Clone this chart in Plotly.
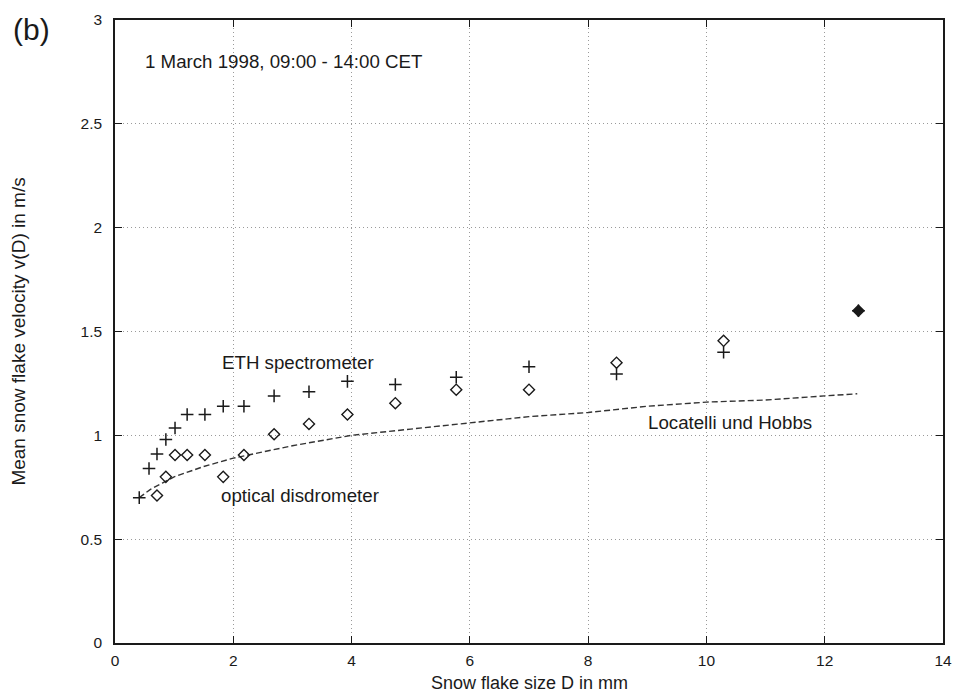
import plotly.graph_objects as go

# ETH spectrometer (+)
eth_d = [0.41, 0.575, 0.71, 0.86, 1.015, 1.22, 1.52, 1.83, 2.18, 2.69, 3.28, 3.93, 4.74, 5.77, 7.00, 8.48, 10.29, 12.57]
eth_v = [0.70, 0.84, 0.91, 0.98, 1.035, 1.10, 1.10, 1.14, 1.14, 1.19, 1.21, 1.26, 1.245, 1.28, 1.33, 1.295, 1.40, 1.60]

# optical disdrometer (diamonds)
opt_d = [0.71, 0.86, 1.015, 1.22, 1.52, 1.83, 2.18, 2.69, 3.28, 3.93, 4.74, 5.77, 7.00, 8.48, 10.29, 12.57]
opt_v = [0.71, 0.80, 0.905, 0.905, 0.905, 0.80, 0.905, 1.005, 1.055, 1.10, 1.155, 1.22, 1.22, 1.35, 1.455, 1.60]

# Locatelli und Hobbs (dashed curve)
lh_d = [0.41, 0.6, 0.8, 1.0, 1.5, 2.0, 3.0, 4.0, 5.0, 6.0, 7.0, 8.0, 9.0, 10.0, 11.0, 12.0, 12.55]
lh_v = [0.70, 0.74, 0.77, 0.80, 0.85, 0.89, 0.95, 1.00, 1.03, 1.06, 1.09, 1.11, 1.14, 1.16, 1.17, 1.19, 1.20]

x_ticks = [0, 2, 4, 6, 8, 10, 12, 14]
y_ticks = [0, 0.5, 1, 1.5, 2, 2.5, 3]
y_tick_labels = ["0", "0.5", "1", "1.5", "2", "2.5", "3"]

FONT = "Liberation Sans, Arial, Helvetica, sans-serif"
INK = "#1a1a1a"

fig = go.Figure()
fig.add_trace(go.Scatter(x=lh_d, y=lh_v, mode="lines",
                         line=dict(color="#333", width=1.4, dash="6px,3px"),
                         showlegend=False))
opt_symbols = ["diamond-open"] * (len(opt_d) - 1) + ["diamond"]
fig.add_trace(go.Scatter(x=opt_d, y=opt_v, mode="markers",
                         marker=dict(symbol=opt_symbols, size=8.5, color=INK,
                                     line=dict(color=INK, width=1.4)),
                         showlegend=False))
fig.add_trace(go.Scatter(x=eth_d, y=eth_v, mode="markers",
                         marker=dict(symbol="cross-thin", size=9,
                                     line=dict(color=INK, width=1.5)),
                         showlegend=False))

axis_common = dict(showgrid=True, gridcolor="#9a9a9a", griddash="1px,3px", gridwidth=1,
                   zeroline=False, showline=True, linecolor=INK, linewidth=1.5,
                   mirror="ticks", ticks="inside", ticklen=7, tickcolor=INK,
                   automargin=False,
                   tickfont=dict(family=FONT, size=15.5, color=INK))

fig.update_xaxes(range=[0, 14], tickvals=x_ticks, ticklabelstandoff=3, **axis_common)
fig.update_yaxes(range=[0, 3], tickvals=y_ticks, ticktext=y_tick_labels,
                 ticklabelstandoff=8, **axis_common)

ann_font = dict(family=FONT, size=18.7, color=INK)
fig.add_annotation(x=0.48, y=2.80, text="1 March 1998, 09:00 - 14:00 CET",
                   showarrow=False, xanchor="left", yanchor="middle", font=ann_font)
fig.add_annotation(x=1.78, y=1.353, text="ETH spectrometer",
                   showarrow=False, xanchor="left", yanchor="middle", font=ann_font)
fig.add_annotation(x=1.76, y=0.708, text="optical disdrometer",
                   showarrow=False, xanchor="left", yanchor="middle", font=ann_font)
fig.add_annotation(x=8.97, y=1.06, text="Locatelli und Hobbs",
                   showarrow=False, xanchor="left", yanchor="middle", font=ann_font)

# axis titles and panel label (paper coordinates)
fig.add_annotation(x=0.5, y=-0.0645, xref="paper", yref="paper",
                   text="Snow flake size D in mm", showarrow=False,
                   xanchor="center", yanchor="middle", borderpad=0,
                   font=dict(family=FONT, size=18, color=INK))
fig.add_annotation(x=-0.117, y=0.5, xref="paper", yref="paper",
                   text="Mean snow flake velocity v(D) in m/s", showarrow=False,
                   textangle=-90, xanchor="center", yanchor="middle",
                   font=dict(family=FONT, size=19, color=INK))
fig.add_annotation(x=-0.1014, y=0.984, xref="paper", yref="paper", text="(b)",
                   showarrow=False, xanchor="center", yanchor="middle",
                   font=dict(family=FONT, size=30, color=INK))

fig.update_layout(width=954, height=693, plot_bgcolor="white", paper_bgcolor="white",
                  margin=dict(l=115, r=11, t=20, b=50, autoexpand=False))

fig.write_html("out.html", config={"displayModeBar": False},
               post_script="document.body.style.margin='0px';"
                           "document.body.style.padding='0px';"
                           "document.body.style.overflow='hidden';")
